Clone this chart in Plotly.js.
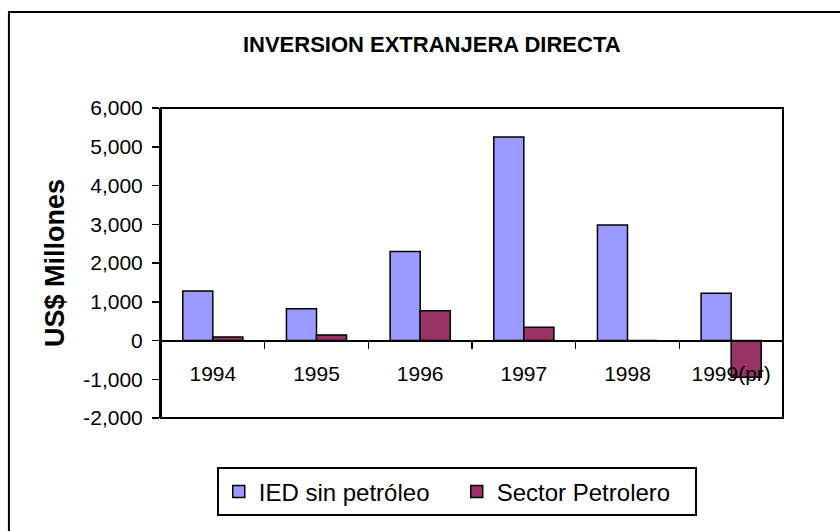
<!DOCTYPE html>
<html>
<head>
<meta charset="utf-8">
<script src="https://cdn.plot.ly/plotly-3.0.1.min.js"></script>
<style>html,body{margin:0;padding:0;background:#fff;}#chart{width:840px;height:531px;}</style>
</head>
<body>
<div id="chart"></div>
<script>
const categories = ['1994', '1995', '1996', '1997', '1998', '1999(pr)'];
const iedSinPetroleo = [1280, 820, 2300, 5250, 2980, 1220];
const sectorPetrolero = [90, 145, 770, 340, 0, -950];
const yTickVals = [-2000, -1000, 0, 1000, 2000, 3000, 4000, 5000, 6000];
const yTickText = ['-2,000', '-1,000', '0', '1,000', '2,000', '3,000', '4,000', '5,000', '6,000'];

const traces = [
  {
    type: 'bar', name: 'IED sin petróleo', x: categories, y: iedSinPetroleo,
    marker: {color: '#9999FF', line: {color: '#000', width: 1.5}}
  },
  {
    type: 'bar', name: 'Sector Petrolero', x: categories, y: sectorPetrolero,
    marker: {color: '#993366', line: {color: '#000', width: 1.5}}
  }
];

const layout = {
  width: 840, height: 531,
  margin: {l: 161, r: 57, t: 108, b: 113, autoexpand: false},
  paper_bgcolor: '#fff', plot_bgcolor: '#fff',
  font: {family: 'Arial, "Liberation Sans", sans-serif', color: '#000', size: 21},
  title: {
    text: 'INVERSION EXTRANJERA DIRECTA',
    font: {size: 22, weight: 'bold', color: '#000'},
    xref: 'container', x: 0.514, xanchor: 'center',
    yref: 'container', y: 0.917, yanchor: 'middle'
  },
  barmode: 'group', bargap: 0.42, bargroupgap: 0,
  showlegend: true,
  legend: {
    orientation: 'h', x: 0.0896, xanchor: 'left', y: -0.159, yanchor: 'top',
    bgcolor: '#fff', bordercolor: '#000', borderwidth: 2,
    font: {size: 24},
    entrywidth: 193, entrywidthmode: 'pixels'
  },
  xaxis: {
    type: 'category', anchor: 'free', position: 0.25,
    showline: true, linecolor: '#000', linewidth: 2,
    ticks: 'outside', tickson: 'boundaries', ticklen: 7, tickwidth: 1.5, tickcolor: '#000',
    ticklabelstandoff: 14,
    showgrid: false, zeroline: false, fixedrange: true,
    tickfont: {size: 21}
  },
  yaxis: {
    range: [-2000, 6000], tickvals: yTickVals, ticktext: yTickText,
    showline: true, linecolor: '#000', linewidth: 2,
    ticks: 'outside', ticklen: 7, tickwidth: 1.5, tickcolor: '#000',
    ticklabelstandoff: 5,
    showgrid: false, zeroline: true, zerolinecolor: '#000', zerolinewidth: 2,
    tickfont: {size: 21},
    title: {text: 'US$ Millones', font: {size: 27, weight: 'bold'}, standoff: 11}
  },
  shapes: [
    {type: 'rect', xref: 'paper', yref: 'paper', x0: 0, x1: 1, y0: 0, y1: 1,
     line: {color: '#000', width: 2}, fillcolor: 'rgba(0,0,0,0)'},
    {type: 'rect', xref: 'paper', yref: 'paper', x0: -0.2445, x1: 1.3, y0: -0.6, y1: 1.31,
     line: {color: '#000', width: 2}, fillcolor: 'rgba(0,0,0,0)'}
  ]
};

Plotly.newPlot('chart', traces, layout, {staticPlot: true, displayModeBar: false});
</script>
</body>
</html>
